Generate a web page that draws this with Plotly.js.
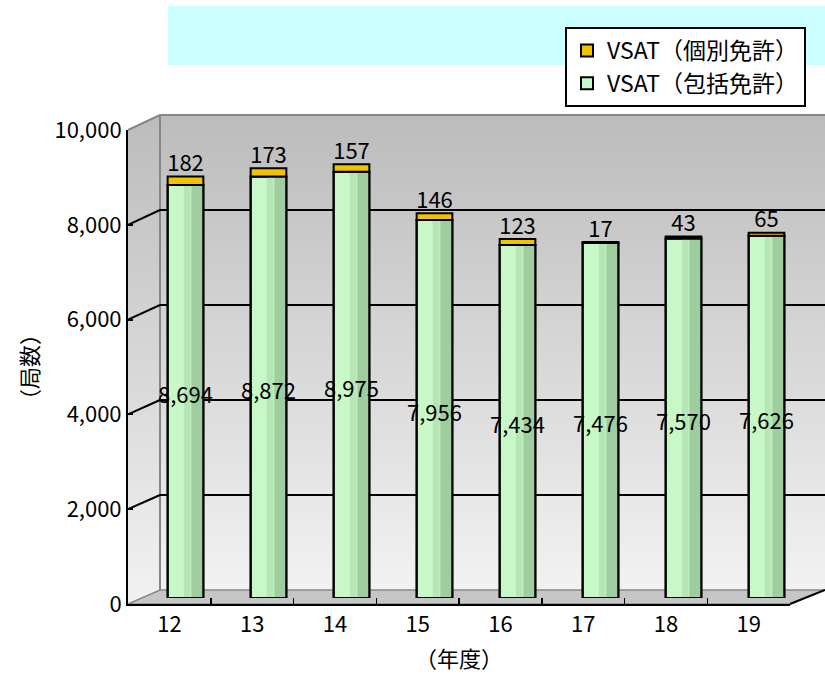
<!DOCTYPE html>
<html>
<head>
<meta charset="utf-8">
<script src="https://cdn.plot.ly/plotly-3.0.1.min.js"></script>
<style>html,body{margin:0;padding:0;background:#fff;}#chart{width:825px;height:684px;}</style>
</head>
<body>
<div id="chart"></div>
<script>
// ---- data ----
const categories = ['12','13','14','15','16','17','18','19'];
const kobetsu  = [182, 173, 157, 146, 123, 17, 43, 65];          // VSAT（個別免許）
const houkatsu = [8694, 8872, 8975, 7956, 7434, 7476, 7570, 7626]; // VSAT（包括免許）
const yTicks = [0, 2000, 4000, 6000, 8000, 10000];
const gridTicks = [2000, 4000, 6000, 8000];
const seriesNames = ['VSAT（個別免許）', 'VSAT（包括免許）'];
const xTitle = '（年度）';
const yTitle = '（局数）';

// ---- geometry of the pseudo-3D box (pixels) ----
const W = 825, H = 684;
const FRONT = {x0:128, x1:790, y0:604, y1:130};
const MID   = {x0:144, x1:808, y0:598, y1:123};
const BACK  = {x0:160, x1:825, y0:590, y1:115};
const YMAX = 10000;
const xd = f => [f.x0 / W, f.x1 / W];
const yd = f => [1 - f.y0 / H, 1 - f.y1 / H];
const py = (f, v) => f.y0 - (f.y0 - f.y1) * v / YMAX;
// value on the MID scale that lands at the same pixel as value v on the FRONT scale
const frontToMid = v => (MID.y0 - py(FRONT, v)) / (MID.y0 - MID.y1) * YMAX;

const FONT = '"Noto Sans CJK JP", "Noto Sans", sans-serif';
const wallGrad = {type:'vertical', start:BACK.y1, stop:BACK.y0,
  colorscale:[[0,'#bcbcbc'],[1,'#f2f2f2']]};

const traces = [];
// decor subplot (pixel space)
traces.push({type:'scatter', xaxis:'x', yaxis:'y', mode:'lines',
  x:[BACK.x0, BACK.x1, BACK.x1, BACK.x0, BACK.x0],
  y:[BACK.y1, BACK.y1, BACK.y0, BACK.y0, BACK.y1],
  fill:'toself', fillgradient:wallGrad, line:{width:0, color:'rgba(0,0,0,0)'},
  hoverinfo:'skip', showlegend:false});
traces.push({type:'scatter', xaxis:'x', yaxis:'y', mode:'lines',
  x:[FRONT.x0, BACK.x0, BACK.x0, FRONT.x0, FRONT.x0],
  y:[FRONT.y1, BACK.y1, BACK.y0, FRONT.y0, FRONT.y1],
  fill:'toself', fillgradient:{type:'vertical', start:BACK.y1, stop:FRONT.y0,
    colorscale:[[0,'#bcbcbc'],[1,'#f2f2f2']]},
  line:{width:0, color:'rgba(0,0,0,0)'}, hoverinfo:'skip', showlegend:false});
traces.push({type:'scatter', xaxis:'x', yaxis:'y', mode:'lines',
  x:[FRONT.x0, FRONT.x1, BACK.x1, BACK.x0, FRONT.x0],
  y:[FRONT.y0, FRONT.y0, BACK.y0, BACK.y0, FRONT.y0],
  fill:'toself', fillcolor:'#c6c6c6', line:{width:1.5, color:'#8a8a8a'},
  hoverinfo:'skip', showlegend:false});
traces.push({type:'scatter', xaxis:'x', yaxis:'y', mode:'lines',
  x:[FRONT.x0, BACK.x0, BACK.x1, null, BACK.x0, BACK.x0],
  y:[FRONT.y1, BACK.y1, BACK.y1, null, BACK.y1, BACK.y0],
  line:{width:2, color:'#868686'}, hoverinfo:'skip', showlegend:false});
// depth lines from front ticks to back grid
const dx = [], dy = [];
gridTicks.forEach(v => { dx.push(FRONT.x0, BACK.x0, null); dy.push(py(FRONT, v), py(BACK, v), null); });
dx.push(FRONT.x1, BACK.x1); dy.push(FRONT.y0, BACK.y0);
traces.push({type:'scatter', xaxis:'x', yaxis:'y', mode:'lines', x:dx, y:dy,
  line:{width:2, color:'#000'}, hoverinfo:'skip', showlegend:false});

// back wall grid subplot
traces.push({type:'scatter', xaxis:'x2', yaxis:'y2', mode:'markers', x:[0.5], y:[0],
  marker:{opacity:0}, hoverinfo:'skip', showlegend:false});

// bars subplot
const BW = 0.43;
traces.push({type:'bar', xaxis:'x3', yaxis:'y3', name:seriesNames[1], x:categories, y:houkatsu,
  width:BW, marker:{color:'#c8f8c8', line:{color:'#000', width:2}}, legendrank:2, hoverinfo:'skip'});
traces.push({type:'bar', xaxis:'x3', yaxis:'y3', x:categories, y:houkatsu,
  width:0.08, offset:-0.02, marker:{color:'#b6e6b6', line:{width:0}}, showlegend:false, hoverinfo:'skip'});
traces.push({type:'bar', xaxis:'x3', yaxis:'y3', x:categories, y:houkatsu,
  width:0.135, offset:BW/2 - 0.145, marker:{color:'#9fcd9f', line:{width:0}}, showlegend:false, hoverinfo:'skip'});
traces.push({type:'bar', xaxis:'x3', yaxis:'y3', x:categories, y:houkatsu,
  width:BW, marker:{color:'rgba(0,0,0,0)', line:{color:'#000', width:2}}, showlegend:false, hoverinfo:'skip'});
traces.push({type:'bar', xaxis:'x3', yaxis:'y3', name:seriesNames[0], x:categories, y:kobetsu, base:houkatsu,
  width:BW, marker:{color:'#f2c200', line:{color:'#000', width:2}}, legendrank:1, hoverinfo:'skip'});
// value labels
traces.push({type:'scatter', xaxis:'x3', yaxis:'y3', mode:'text', x:categories,
  y:houkatsu.map((v, i) => v + kobetsu[i]), text:kobetsu.map(String),
  textposition:'top center', textfont:{family:FONT, size:22, color:'#000'},
  hoverinfo:'skip', showlegend:false});
traces.push({type:'scatter', xaxis:'x3', yaxis:'y3', mode:'text', x:categories,
  y:houkatsu.map(v => frontToMid(v / 2)), text:houkatsu.map(v => v.toLocaleString('en-US')),
  textposition:'middle center', textfont:{family:FONT, size:22, color:'#000'},
  hoverinfo:'skip', showlegend:false});

// front axes subplot
traces.push({type:'scatter', xaxis:'x4', yaxis:'y4', mode:'markers', x:categories, y:houkatsu,
  marker:{opacity:0}, hoverinfo:'skip', showlegend:false});

const hidden = {visible:false, fixedrange:true};
const layout = {
  width:W, height:H,
  margin:{l:0, r:0, t:0, b:0, pad:0},
  paper_bgcolor:'#fff', plot_bgcolor:'rgba(0,0,0,0)',
  barmode:'overlay',
  font:{family:FONT, color:'#000'},
  showlegend:true,
  legend:{x:565/W, y:1 - 27/H, xanchor:'left', yanchor:'top',
    bgcolor:'#fff', bordercolor:'#000', borderwidth:2,
    font:{family:FONT, size:23, color:'#000'}, tracegroupgap:0, itemwidth:30},
  xaxis:Object.assign({domain:[0,1], range:[0,W], anchor:'y'}, hidden),
  yaxis:Object.assign({domain:[0,1], range:[H,0], anchor:'x'}, hidden),
  xaxis2:Object.assign({domain:xd(BACK), range:[0,1], anchor:'y2'}, hidden),
  yaxis2:{domain:yd(BACK), range:[0,YMAX], anchor:'x2', tickvals:gridTicks,
    showgrid:true, gridcolor:'#000', gridwidth:2, showticklabels:false,
    ticks:'', zeroline:false, showline:false, fixedrange:true},
  xaxis3:Object.assign({domain:xd(MID), type:'category', categoryarray:categories,
    range:[-0.5, categories.length - 0.5], anchor:'y3'}, hidden),
  yaxis3:Object.assign({domain:yd(MID), range:[0,YMAX], anchor:'x3'}, hidden),
  xaxis4:{domain:xd(FRONT), type:'category', categoryarray:categories,
    range:[-0.5, categories.length - 0.5], anchor:'y4',
    showline:true, linecolor:'#000', linewidth:2, showgrid:false, zeroline:false,
    ticks:'inside', tickson:'boundaries', ticklen:6, tickwidth:1.5, tickcolor:'#000',
    tickfont:{family:FONT, size:22}, fixedrange:true,
    title:{text:xTitle, font:{family:FONT, size:22}, standoff:14}},
  yaxis4:{domain:yd(FRONT), range:[0,YMAX], anchor:'x4', tickvals:yTicks,
    tickformat:',d', showline:true, linecolor:'#000', linewidth:2,
    showgrid:false, zeroline:false, ticks:'inside', ticklen:5, tickwidth:2,
    tickcolor:'#000', tickfont:{family:FONT, size:22}, fixedrange:true,
    title:{text:yTitle, font:{family:FONT, size:22}, standoff:10}},
  shapes:[{type:'rect', xref:'paper', yref:'paper', layer:'below',
    x0:168/W, x1:1, y0:1 - 65/H, y1:1 - 6/H, fillcolor:'#ccffff', line:{width:0}}]
};

Plotly.newPlot('chart', traces, layout, {displayModeBar:false, staticPlot:true});
</script>
</body>
</html>
